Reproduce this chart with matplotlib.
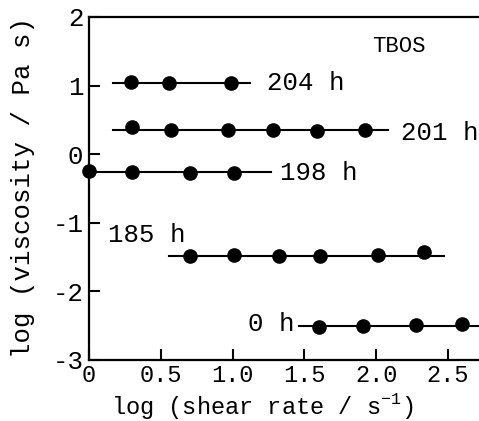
import matplotlib
matplotlib.use("Agg")
import matplotlib.pyplot as plt

plt.rcParams['font.family'] = ['Liberation Mono', 'DejaVu Sans Mono']
plt.rcParams['mathtext.fontset'] = 'custom'
plt.rcParams['mathtext.rm'] = 'Liberation Mono'

x_204 = [0.29, 0.56, 0.99]
y_204 = [1.05, 1.04, 1.04]
line_204 = [0.17, 1.12]

x_201 = [0.30, 0.57, 0.97, 1.28, 1.59, 1.92]
y_201 = [0.39, 0.36, 0.35, 0.35, 0.34, 0.35]
line_201 = [0.17, 2.08]

x_198 = [0.00, 0.30, 0.70, 1.01]
y_198 = [-0.25, -0.26, -0.27, -0.27]
line_198 = [0.00, 1.27]

x_185 = [0.70, 1.01, 1.32, 1.61, 2.01, 2.33]
y_185 = [-1.49, -1.47, -1.48, -1.49, -1.47, -1.43]
line_185 = [0.56, 2.47]

x_0 = [1.60, 1.91, 2.28, 2.60]
y_0 = [-2.52, -2.50, -2.49, -2.48]
line_0 = [1.46, 2.85]

series = [
    ("204 h", x_204, y_204, line_204, 1.04, (1.24, 1.04), 'left'),
    ("201 h", x_201, y_201, line_201, 0.35, (2.17, 0.31), 'left'),
    ("198 h", x_198, y_198, line_198, -0.26, (1.33, -0.27), 'left'),
    ("185 h", x_185, y_185, line_185, -1.48, (0.13, -1.18), 'left'),
    ("0 h", x_0, y_0, line_0, -2.51, (1.43, -2.48), 'right'),
]

x_ticks = [0, 0.5, 1.0, 1.5, 2.0, 2.5]
x_ticklabels = ["0", "0.5", "1.0", "1.5", "2.0", "2.5"]
y_ticks = [-3, -2, -1, 0, 1, 2]
y_ticklabels = ["-3", "-2", "-1", "0", "1", "2"]

FS = 18.5
FS_X = 17

W, H = 479, 421
fig = plt.figure(figsize=(W / 100, H / 100), dpi=100)
left_px, right_px, top_px, bottom_px = 89, 510, 17, 360
ax = fig.add_axes([left_px / W, (H - bottom_px) / H,
                   (right_px - left_px) / W, (bottom_px - top_px) / H])
ax.set_xlim(0, (right_px - left_px) / 143.6)
ax.set_ylim(-3, 1.96)

for name, xs, ys, (l0, l1), yl, (tx, ty), ha in series:
    ax.plot([l0, l1], [yl, yl], color='black', lw=1.5, clip_on=False, zorder=2)
    ax.plot(xs, ys, 'o', color='black', ms=9.5, clip_on=False, zorder=3)
    ax.text(tx, ty, name, fontsize=FS, ha=ha, va='center', color='black')

ax.text(1.97, 1.57, "TBOS", fontsize=16, ha='left', va='center', color='black')

ax.set_xticks(x_ticks)
ax.set_xticklabels(x_ticklabels, fontsize=FS_X)
ax.set_yticks(y_ticks)
ax.set_yticklabels(y_ticklabels, fontsize=FS)
ax.tick_params(direction='in', length=8, width=1.5, pad=4, colors='black')
ax.tick_params(axis='x', pad=3)

for s in ['left', 'bottom', 'top']:
    ax.spines[s].set_linewidth(1.6)
ax.spines['right'].set_visible(False)

ax.set_xlabel(r"log (shear rate / s$^{-1}$)", fontsize=FS_X)
ax.xaxis.set_label_coords((262 - left_px) / (right_px - left_px), -(406 - bottom_px) / (bottom_px - top_px))
ax.xaxis.label.set_va('center')
ax.set_ylabel("log (viscosity / Pa s)", fontsize=FS)
ax.yaxis.set_label_coords(-(left_px - 23) / (right_px - left_px), (bottom_px - 188) / (bottom_px - top_px))
ax.yaxis.label.set_va('center')

fig.savefig("out.png", dpi=100)
